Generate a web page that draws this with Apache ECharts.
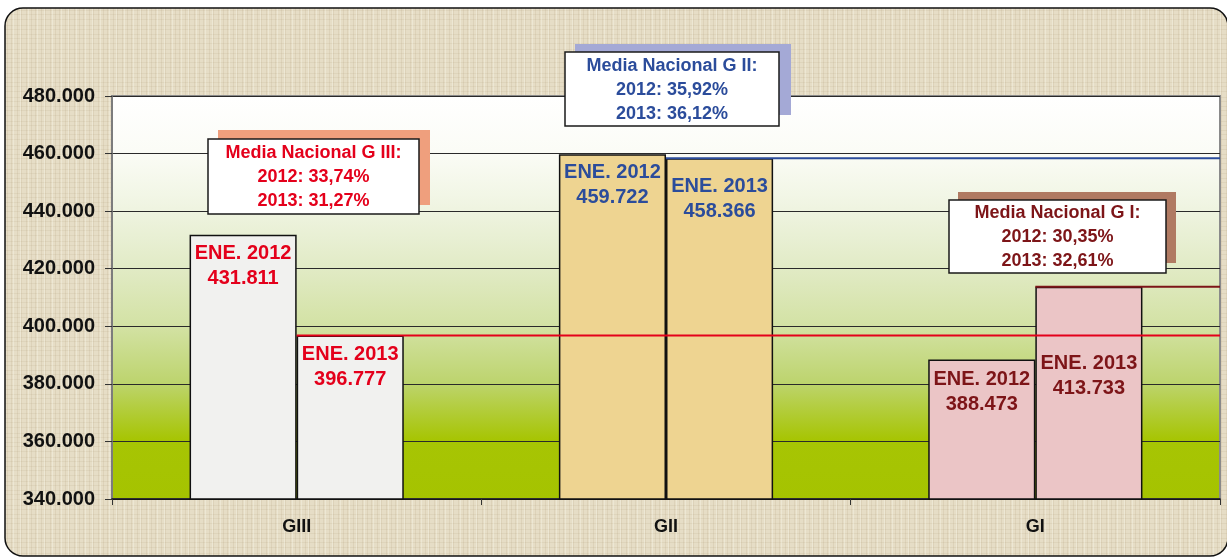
<!DOCTYPE html>
<html>
<head>
<meta charset="utf-8">
<script src="https://cdn.jsdelivr.net/npm/echarts@6/dist/echarts.min.js"></script>
<style>html,body{margin:0;padding:0;background:#fff;}#c{width:1227px;height:559px;}</style>
</head>
<body>
<div id="c"></div>
<script>
var categories = ['GIII', 'GII', 'GI'];
var values2012 = [431811, 459722, 388473];
var values2013 = [396777, 458366, 413733];
var yMin = 340000, yMax = 480000, yInterval = 20000;
var mediaTitles = ['Media Nacional G III:', 'Media Nacional G II:', 'Media Nacional G I:'];
var media2012 = ['33,74%', '35,92%', '30,35%'];
var media2013 = ['31,27%', '36,12%', '32,61%'];

var textColors = ['#e4001b', '#2b4c9b', '#7d1518'];
var barColors = ['#f1f1ef', '#eed491', '#ebc5c6'];
var shadowColors = ['#ef9f7d', '#a4a9d6', '#b07a62'];
var labelShift2012 = [0, 0, 2];
var labelShift2013 = [0, 10, 58];
var FONT = 'Liberation Sans, Arial, sans-serif';

function fmt(v) {
  var s = String(Math.round(v));
  return s.replace(/\B(?=(\d{3})+(?!\d))/g, '.');
}

// linen-like texture (deterministic)
var pc = document.createElement('canvas');
pc.width = 24; pc.height = 24;
var pctx = pc.getContext('2d');
pctx.fillStyle = '#e6ddc6';
pctx.fillRect(0, 0, 24, 24);
pctx.fillStyle = 'rgba(160,140,100,0.13)';
[2, 7, 11, 17, 21].forEach(function (p) { pctx.fillRect(p, 0, 1, 24); });
pctx.fillStyle = 'rgba(160,140,100,0.10)';
[1, 5, 10, 14, 19].forEach(function (p) { pctx.fillRect(0, p, 24, 1); });
pctx.fillStyle = 'rgba(255,255,245,0.30)';
[4, 13, 20].forEach(function (p) { pctx.fillRect(p, 0, 1, 24); });

var chart = echarts.init(document.getElementById('c'), null, {renderer: 'canvas'});

function barSeries(name, vals, shifts) {
  return {
    name: name,
    type: 'bar',
    xAxisIndex: 0,
    yAxisIndex: 0,
    barGap: '0%',
    barCategoryGap: '42%',
    z: 3,
    data: vals.map(function (v, i) {
      return {
        value: v,
        itemStyle: {color: barColors[i], borderColor: '#111', borderWidth: 1.5},
        label: {color: textColors[i], offset: [0, shifts[i]]}
      };
    }),
    label: {
      show: true,
      position: 'insideTop',
      distance: 6,
      fontFamily: FONT,
      fontWeight: 'bold',
      fontSize: 20,
      lineHeight: 25,
      formatter: function (p) { return 'ENE. ' + name + '\n' + fmt(p.value); }
    }
  };
}

var refLines = values2013.map(function (v, i) {
  return {
    type: 'line',
    xAxisIndex: 1,
    yAxisIndex: 0,
    z: 5,
    symbol: 'none',
    silent: true,
    lineStyle: {color: textColors[i], width: 2},
    data: [[i + 0.5, v], [categories.length, v]]
  };
});

var boxGeom = [
  {sx: 218, sy: 130, sw: 212, sh: 75, bx: 208, by: 139, bw: 211, bh: 75},
  {sx: 575, sy: 44, sw: 216, sh: 71, bx: 565, by: 52, bw: 214, bh: 74},
  {sx: 958, sy: 192, sw: 218, sh: 71, bx: 949, by: 200, bw: 217, bh: 73}
];

var graphics = [{
  type: 'rect',
  z: -100,
  shape: {x: 5, y: 8, width: 1223, height: 548, r: 18},
  style: {fill: {image: pc, repeat: 'repeat'}, stroke: '#111', lineWidth: 1.5}
}];
boxGeom.forEach(function (g, i) {
  graphics.push({
    type: 'rect', z: 100,
    shape: {x: g.sx, y: g.sy, width: g.sw, height: g.sh},
    style: {fill: shadowColors[i]}
  });
  graphics.push({
    type: 'rect', z: 101,
    shape: {x: g.bx, y: g.by, width: g.bw, height: g.bh},
    style: {fill: '#ffffff', stroke: '#1a1a1a', lineWidth: 1.5}
  });
  graphics.push({
    type: 'text', z: 102,
    x: g.bx + g.bw / 2, y: g.by + g.bh / 2 + 1,
    style: {
      text: mediaTitles[i] + '\n2012: ' + media2012[i] + '\n2013: ' + media2013[i],
      fill: textColors[i],
      font: 'bold 18px ' + FONT,
      align: 'center',
      verticalAlign: 'middle',
      lineHeight: 24
    }
  });
});

chart.setOption({
  animation: false,
  backgroundColor: '#ffffff',
  grid: {
    left: 112, right: 7, top: 96, bottom: 60,
    show: true,
    backgroundColor: new echarts.graphic.LinearGradient(0, 0, 0, 1, [
      {offset: 0, color: '#ffffff'},
      {offset: 0.14, color: '#fbfcf6'},
      {offset: 0.28, color: '#eff4e1'},
      {offset: 0.42, color: '#e2ebc7'},
      {offset: 0.57, color: '#d3e2a4'},
      {offset: 0.71, color: '#bdd46e'},
      {offset: 0.85, color: '#a7c504'},
      {offset: 1, color: '#a5c300'}
    ]),
    borderColor: '#8a8a8a',
    borderWidth: 2
  },
  xAxis: [{
    type: 'category',
    data: categories,
    axisLine: {show: true, lineStyle: {color: '#111', width: 1.5}},
    axisTick: {show: true, length: 6, lineStyle: {color: '#333'}},
    axisLabel: {fontFamily: FONT, fontWeight: 'bold', fontSize: 18, color: '#111', margin: 19},
    splitLine: {show: false}
  }, {
    type: 'value',
    min: 0,
    max: categories.length,
    show: false,
    splitLine: {show: false}
  }],
  yAxis: {
    type: 'value',
    min: yMin, max: yMax, interval: yInterval,
    axisLine: {show: true, lineStyle: {color: '#777', width: 1.5}},
    axisTick: {show: true, length: 7, lineStyle: {color: '#333'}},
    axisLabel: {
      fontFamily: FONT, fontWeight: 'bold', fontSize: 20, color: '#111', margin: 17,
      formatter: function (v) { return fmt(v); }
    },
    splitLine: {show: true, lineStyle: {color: '#2a2a2a', width: 1}}
  },
  series: [barSeries('2012', values2012, labelShift2012), barSeries('2013', values2013, labelShift2013)].concat(refLines),
  graphic: graphics
});
</script>
</body>
</html>
